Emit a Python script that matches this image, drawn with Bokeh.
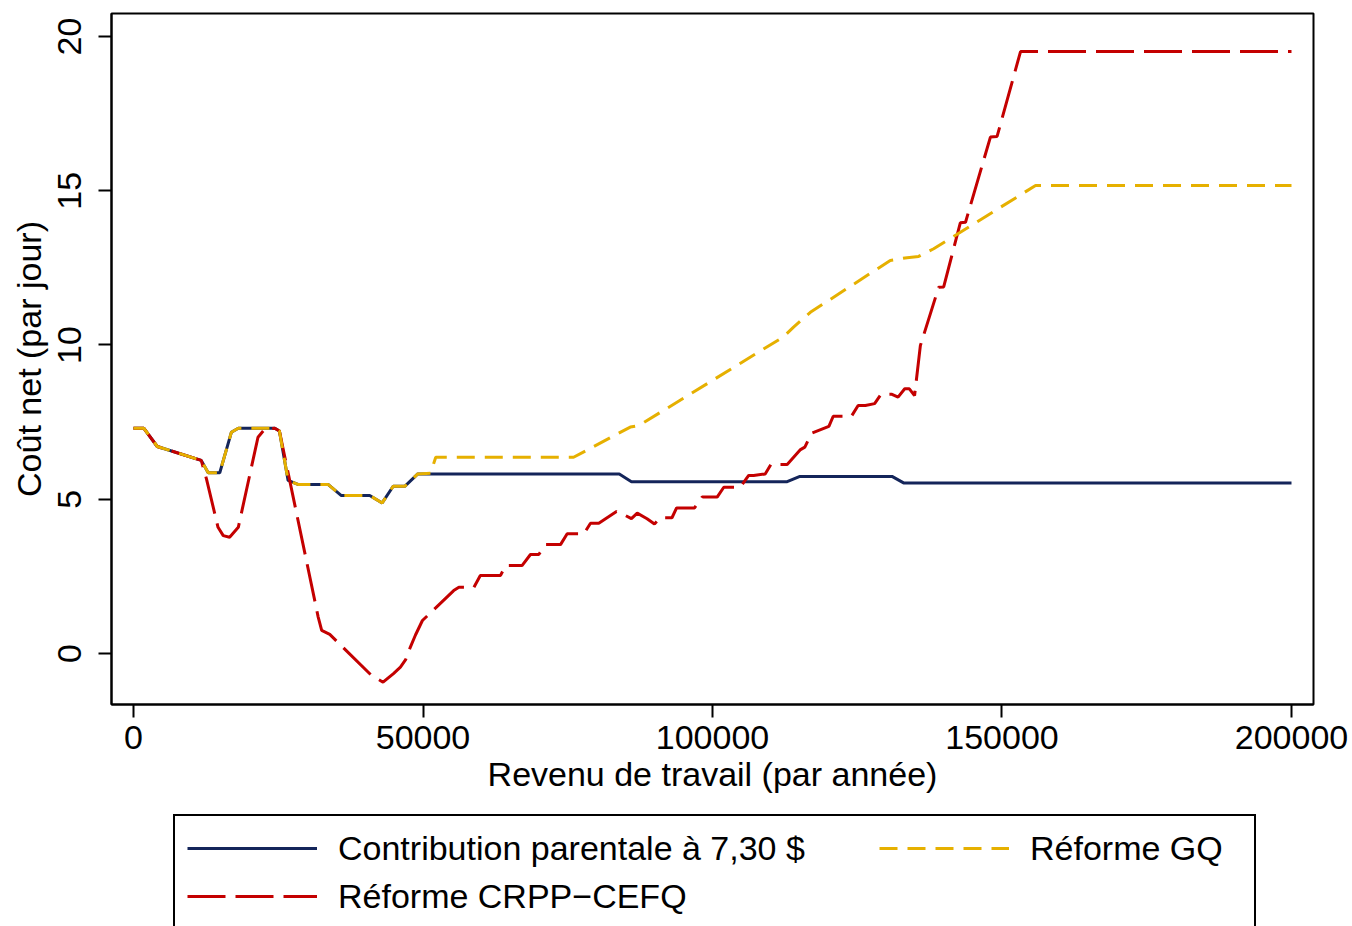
from bokeh.plotting import figure
from bokeh.layouts import column
from bokeh.models import Legend, LegendItem, Range1d, FixedTicker, BasicTickFormatter
from bokeh.embed import file_html
from bokeh.resources import INLINE

# Revenu de travail (par année) / Coût net (par jour)
x_base = [0, 1800, 4100, 11700, 12900, 14900, 16900, 18100, 24400, 25200, 26700, 28400,
          33600, 35900, 40800, 42950, 44850, 46850, 49100, 83900, 86000, 112900, 115100,
          131000, 133000, 200000]
y_base = [7.30, 7.30, 6.71, 6.26, 5.86, 5.86, 7.17, 7.30, 7.30, 7.21, 5.61, 5.48,
          5.48, 5.12, 5.12, 4.88, 5.42, 5.42, 5.82, 5.82, 5.57, 5.57, 5.74,
          5.74, 5.53, 5.53]

x_gq = [0, 1800, 4100, 11700, 12900, 14900, 16900, 18100, 24400, 25200, 26700, 28400,
        33600, 35900, 40800, 42950, 44850, 46850, 49100, 51300, 52200, 76000, 85800,
        87300, 112300, 114000, 116900, 130700, 133600, 135600, 138200, 155800, 200000]
y_gq = [7.30, 7.30, 6.71, 6.26, 5.86, 5.86, 7.17, 7.30, 7.30, 7.21, 5.61, 5.48,
        5.48, 5.12, 5.12, 4.88, 5.42, 5.42, 5.82, 5.84, 6.36, 6.36, 7.34,
        7.39, 10.27, 10.58, 11.06, 12.74, 12.83, 12.87, 13.12, 15.17, 15.17]

x_crpp = [0, 1800, 4100, 11700, 12600, 14600, 15500, 16600, 18100, 21500, 22700, 24400,
          25200, 31900, 32500, 33900, 41100, 43100, 44900, 46100, 47000, 47800, 48700,
          49900, 55300, 56200, 58800, 59900, 63400, 64240, 67100, 68560, 70000, 71150,
          73750, 74900, 77770, 78930, 80360, 83420, 84400, 86000, 87000, 88700, 89980,
          91000, 93000, 93800, 96900, 98200, 100800, 101950, 104800, 106250, 107100,
          109100, 110100, 112900, 115200, 115950, 117100, 120100, 120850, 124000,
          125150, 126400, 128000, 129100, 131000, 132050, 133200, 134000, 134900,
          135900, 139060, 139930, 142800, 143700, 148000, 149150, 153200, 200000]
y_crpp = [7.30, 7.30, 6.71, 6.26, 5.66, 4.09, 3.82, 3.77, 4.09, 7.01, 7.28, 7.30,
          7.21, 1.18, 0.75, 0.62, -0.71, -0.93, -0.65, -0.44, -0.20, 0.20, 0.60,
          1.07, 2.04, 2.15, 2.15, 2.53, 2.53, 2.85, 2.85, 3.21, 3.21, 3.53,
          3.53, 3.88, 3.88, 4.22, 4.22, 4.60, 4.53, 4.37, 4.55, 4.37, 4.20,
          4.40, 4.40, 4.72, 4.72, 5.07, 5.07, 5.39, 5.39, 5.77, 5.77,
          5.82, 6.13, 6.13, 6.61, 6.69, 7.14, 7.36, 7.69, 7.69,
          8.04, 8.04, 8.10, 8.40, 8.40, 8.31, 8.58, 8.58, 8.36,
          9.98, 11.87, 11.88, 13.96, 13.98, 16.74, 16.76, 19.51, 19.51]

x_ticks = [0, 50000, 100000, 150000, 200000]
y_ticks = [0, 5, 10, 15, 20]

labels = ["Contribution parentale à 7,30 $", "Réforme CRPP\u2212CEFQ", "Réforme GQ"]
colors = ["#14255a", "#c40000", "#e6b000"]
dashes = ["solid", "38 10", "18 10"]

FONT = "Liberation Sans"
FS = "34px"

p = figure(width=1352, height=810, output_backend="svg", toolbar_location=None,
           x_range=Range1d(-3800, 203800), y_range=Range1d(-1.653, 20.745),
           min_border_left=111, min_border_right=39, min_border_top=13,
           min_border_bottom=106, background_fill_color="white",
           border_fill_color="white")

p.xgrid.visible = False
p.ygrid.visible = False
p.outline_line_color = "black"
p.outline_line_width = 2

for ax in (p.xaxis[0], p.yaxis[0]):
    ax.axis_line_width = 2
    ax.major_tick_line_width = 2
    ax.major_tick_out = 13
    ax.major_tick_in = 0
    ax.minor_tick_line_color = None
    ax.major_label_text_font = FONT
    ax.major_label_text_font_size = FS
    ax.major_label_text_color = "black"
    ax.axis_label_text_font = FONT
    ax.axis_label_text_font_size = FS
    ax.axis_label_text_font_style = "normal"
    ax.axis_label_text_color = "black"

p.xaxis.ticker = FixedTicker(ticks=x_ticks)
p.yaxis.ticker = FixedTicker(ticks=y_ticks)
p.xaxis.formatter = BasicTickFormatter(use_scientific=False)
p.yaxis.major_label_orientation = "vertical"
p.xaxis.axis_label = "Revenu de travail (par année)"
p.yaxis.axis_label = "Coût net (par jour)"
p.xaxis.major_label_standoff = 8
p.xaxis.axis_label_standoff = 3
p.yaxis.major_label_standoff = 17
p.yaxis.axis_label_standoff = 8

p.line(x_base, y_base, line_color=colors[0], line_width=3)
p.line(x_crpp, y_crpp, line_color=colors[1], line_width=3, line_dash=dashes[1])
p.line(x_gq, y_gq, line_color=colors[2], line_width=3, line_dash=dashes[2])

# legend strip below the chart (its frame is aligned with the chart's frame)
q = figure(width=1352, height=116, output_backend="svg", toolbar_location=None,
           x_range=Range1d(0, 1), y_range=Range1d(0, 1),
           x_axis_location=None, y_axis_location=None,
           min_border_left=0, min_border_right=0, min_border_top=0, min_border_bottom=0,
           background_fill_color="white", border_fill_color="white")
q.xgrid.visible = False
q.ygrid.visible = False
q.outline_line_color = None

lr = [q.line([-5, -4], [-5, -4], line_color=c, line_width=3, line_dash=d)
      for c, d in zip(colors, dashes)]

# trailing spaces widen the first column / right padding like the original legend
leg = Legend(items=[LegendItem(label=labels[0] + " " * 7, renderers=[lr[0]]),
                    LegendItem(label=labels[1], renderers=[lr[1]]),
                    LegendItem(label=labels[2] + " " * 2, renderers=[lr[2]])],
             location=(62, -4), orientation="vertical", nrows=2,
             label_text_font=FONT, label_text_font_size=FS, label_text_color="black",
             glyph_width=130, glyph_height=40, label_height=40, label_standoff=21,
             spacing=8, padding=12, margin=0,
             border_line_color="black", border_line_width=2, border_line_alpha=1,
             background_fill_color="white", background_fill_alpha=1)
q.add_layout(leg)

open("out.html", "w").write(file_html(column(p, q), INLINE))
